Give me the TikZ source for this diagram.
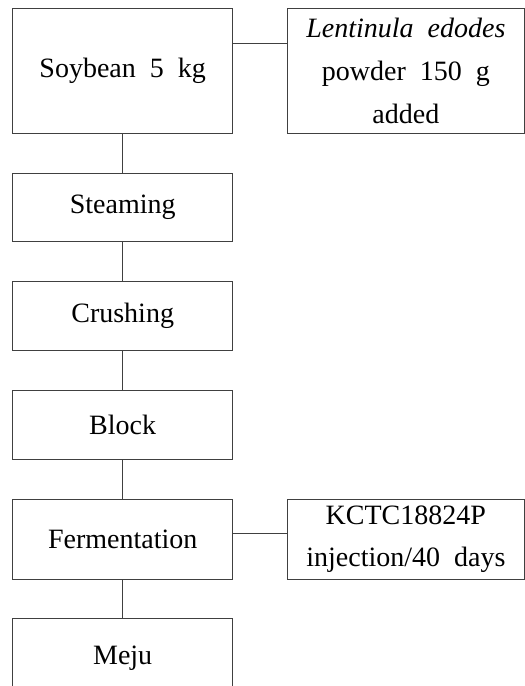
\documentclass[tikz,border=0pt]{standalone}
\usepackage{fontspec}
\setmainfont{Liberation Serif}
\usepackage{tikz}
\usetikzlibrary{positioning}

\begin{document}
\begin{tikzpicture}[
    x=1pt, y=1pt,
    every node/.style={font=\fontsize{21}{32}\selectfont},
    stepbox/.style={draw=black!75, line width=0.8pt, minimum width=165pt, minimum height=51.5pt, align=center, inner sep=0pt},
    addbox/.style={draw=black!75, line width=0.8pt, minimum width=178pt, align=center, inner sep=0pt},
    link/.style={draw=black!75, line width=0.8pt}
]
    \clip (0,0) rectangle (393.75,514.5);
    \useasboundingbox (0,0) rectangle (393.75,514.5);

    % Process steps
    \node[stepbox, minimum height=93.75pt] (soy) at (92,461.4) {Soybean\ \ 5\ \ kg};
    \node[stepbox] (steam) at (92,358.9) {Steaming};
    \node[stepbox] (crush) at (92,277.4) {Crushing};
    \node[stepbox] (block) at (92,195.75) {Block};
    \node[stepbox, minimum height=60pt] (ferm) at (92,110) {Fermentation};
    \node[stepbox, minimum height=60pt] (meju) at (92,20.8) {Meju};

    % Additions
    \node[addbox, minimum height=93.75pt] (lent) at (304.4,461.4)
        {\textit{Lentinula\ \ edodes}\\ powder\ \ 150\ \ g\\ added};
    \node[addbox, minimum height=60pt] (kctc) at (304.4,110)
        {KCTC18824P\\ injection/40\ \ days};

    % Main line
    \foreach \a/\b in {soy/steam, steam/crush, crush/block, block/ferm, ferm/meju}
        \draw[link] (\a) -- (\b);

    % Side links
    \draw[link] ([yshift=20.6pt]soy.east) -- ([yshift=20.6pt]lent.west);
    \draw[link] ([yshift=4.5pt]ferm.east) -- ([yshift=4.5pt]kctc.west);
\end{tikzpicture}
\end{document}
